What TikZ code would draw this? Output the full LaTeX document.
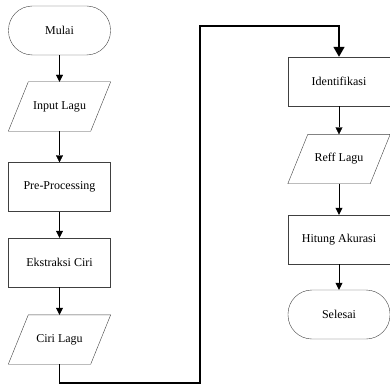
\documentclass[tikz,border=0pt]{standalone}
\usepackage{fontspec}
\setmainfont{Liberation Serif}
\usepackage{tikz}
\usetikzlibrary{arrows.meta}

\begin{document}
\begin{tikzpicture}[x=1pt,y=1pt,
  font=\fontsize{12}{14}\selectfont,
  terminal/.style={draw=black!75,rounded corners=24pt,minimum width=102pt,minimum height=49pt},
  process/.style={draw=black!75,minimum width=102pt,minimum height=49pt},
  data/.style={minimum width=82pt,minimum height=49pt},
  flow/.style={-{Triangle[length=7pt,width=7pt]},black},
  jump/.style={-{Triangle[length=10pt,width=11pt]},line width=1.6pt}]
\useasboundingbox (0,0) rectangle (390,389);

% left column
\node[terminal] (mulai) at (59.5,358.5) {Mulai};
\node[data]     (input) at (59.5,282.5) {Input Lagu};
\node[process]  (pre)   at (59.5,202)   {Pre-Processing};
\node[process]  (ekstr) at (59.5,126.5) {Ekstraksi Ciri};
\node[data]     (ciri)  at (59.5,49.5)  {Ciri Lagu};

% right column
\node[process]  (ident) at (339,307.5)  {Identifikasi};
\node[data]     (reff)  at (339,230)    {Reff Lagu};
\node[process]  (hitung) at (339,149.5) {Hitung Akurasi};
\node[terminal] (selesai) at (339,74.5) {Selesai};

% parallelograms round the data nodes
\foreach \n in {input,ciri,reff}
  \draw[black!75] ([xshift=-10pt]\n.south west) -- ([xshift=-10pt]\n.south east)
    -- ([xshift=10pt]\n.north east) -- ([xshift=10pt]\n.north west) -- cycle;

\draw[flow] (mulai) -- (input);
\draw[flow] (input) -- (pre);
\draw[flow] (pre) -- (ekstr);
\draw[flow] (ekstr) -- (ciri);

\coordinate (bawah) at (200,6);
\coordinate (atas) at (200,363);
\draw[jump] (ciri.south) |- (bawah) -- (atas) -| (ident.north);

\draw[flow] (ident) -- (reff);
\draw[flow] (reff) -- (hitung);
\draw[flow] (hitung) -- (selesai);
\end{tikzpicture}
\end{document}
